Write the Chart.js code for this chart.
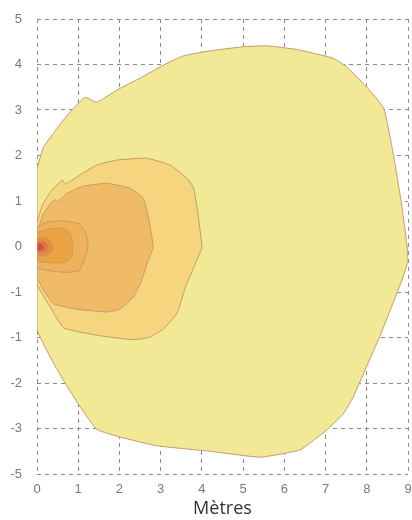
<!DOCTYPE html>
<html>
<head>
<meta charset="utf-8">
<script src="https://cdn.jsdelivr.net/npm/chart.js@4/dist/chart.umd.min.js"></script>
<style>
  html, body { margin: 0; padding: 0; background: #fff; }
  #wrap { width: 412px; height: 520px; }
</style>
</head>
<body>
<div id="wrap"><canvas id="contourChart"></canvas></div>
<script>
// tick labels as printed on the reference (top to bottom)
var yTickLabels = ["5", "4", "3", "2", "1", "0", "-1", "-1", "-2", "-3", "-5"];
var xTickLabels = ["0", "1", "2", "3", "4", "5", "6", "7", "8", "9"];
var xTitle = "Mètres";

// contour levels, outermost first: [metres, metres]
var level1 = [[0,1.72],[0.16,2.19],[0.40,2.49],[0.64,2.78],[0.89,3.04],[1.17,3.28],[1.45,3.17],
  [1.94,3.44],[2.50,3.70],[3.07,3.99],[3.55,4.19],[4.20,4.30],[5.00,4.39],[5.57,4.41],[6.30,4.33],
  [7.18,4.14],[7.51,3.95],[7.99,3.51],[8.41,3.04],[8.64,2.05],[8.84,0.95],[8.96,0.14],[9.0,-0.30],
  [8.88,-0.67],[8.60,-1.33],[8.31,-1.99],[7.99,-2.65],[7.67,-3.31],[7.43,-3.68],[7.02,-4.04],
  [6.38,-4.47],[5.41,-4.63],[4.20,-4.50],[2.91,-4.38],[2.02,-4.19],[1.45,-4.02],[1.05,-3.53],
  [0.64,-2.94],[0.32,-2.43],[0,-1.81]];
var level2 = [[0,0.53],[0.13,0.91],[0.32,1.19],[0.61,1.46],[0.69,1.37],[0.97,1.53],[1.45,1.79],
  [1.94,1.90],[2.66,1.94],[3.23,1.79],[3.63,1.50],[3.79,1.31],[3.88,0.87],[4.00,-0.01],[3.88,-0.30],
  [3.63,-0.82],[3.39,-1.48],[3.07,-1.81],[2.74,-1.99],[2.34,-2.05],[1.45,-1.95],[0.65,-1.79],
  [0.32,-1.33],[0,-0.82]];
var level3 = [[0,0.31],[0.16,0.73],[0.36,0.98],[0.44,1.03],[0.49,0.98],[0.73,1.17],[1.13,1.33],
  [1.70,1.39],[2.26,1.28],[2.58,1.06],[2.70,0.65],[2.82,-0.01],[2.70,-0.30],[2.54,-0.74],
  [2.34,-1.11],[2.02,-1.37],[1.70,-1.44],[0.89,-1.37],[0.40,-1.26],[0.16,-0.96],[0,-0.67]];
var level4 = [[0,0.42],[0.21,0.53],[0.61,0.57],[1.02,0.50],[1.18,0.31],[1.24,0.02],[1.18,-0.20],
  [1.02,-0.53],[0.69,-0.57],[0.29,-0.53],[0,-0.46]];
var level5 = [[0,0.31],[0.29,0.39],[0.61,0.40],[0.81,0.28],[0.87,0.02],[0.84,-0.24],[0.69,-0.35],
  [0.37,-0.36],[0,-0.31]];
var level6 = [[0,0.17],[0.17,0.20],[0.33,0.13],[0.39,-0.02],[0.33,-0.16],[0.17,-0.21],[0,-0.19]];
var level7 = [[0,0.11],[0.13,0.13],[0.25,0.06],[0.27,-0.02],[0.25,-0.09],[0.13,-0.13],[0,-0.11]];
var level8 = [[0,0.08],[0.11,0.08],[0.18,-0.02],[0.11,-0.10],[0,-0.10]];

var levels = [level1, level2, level3, level4, level5, level6, level7, level8];
var fills = ["#f1e996", "#f5d67f", "#f0bb66", "#efb15a", "#eca341", "#e98b3a", "#e46c34", "#e04a2e"];

function toPoints(level) {
    var pts = level.map(function (p) { return {x: p[0], y: p[1]}; });
    pts.push({x: level[0][0], y: level[0][1]}); // close the loop
    return pts;
}

var datasets = levels.map(function (level, i) {
    return {
        data: toPoints(level),
        showLine: true,
        fill: 'shape',
        backgroundColor: fills[i],
        borderColor: "#c49a6c",
        borderWidth: 1,
        pointRadius: 0,
        tension: 0.12,
        order: levels.length - i
    };
});

var tickFont = {family: "'Liberation Sans', Arial, sans-serif", size: 13};

var ctx = document.getElementById("contourChart").getContext("2d");
var contourChart = new Chart(ctx, {
    type: "scatter",
    data: { datasets: datasets },
    options: {
        responsive: true,
        maintainAspectRatio: false,
        animation: false,
        layout: { padding: { top: 19, right: 4, left: 0, bottom: 0 } },
        plugins: {
            legend: { display: false },
            tooltip: { enabled: false }
        },
        scales: {
            x: {
                type: "linear",
                min: 0,
                max: 9,
                border: { display: false, dash: [4, 4] },
                grid: { color: "#8a8a8a", lineWidth: 1, drawTicks: false },
                ticks: {
                    stepSize: 1,
                    padding: 8,
                    color: "#7a7a7a",
                    font: tickFont,
                    callback: function (v) { return xTickLabels[v]; }
                },
                title: {
                    display: true,
                    text: xTitle,
                    color: "#333",
                    font: {family: "'Open Sans', sans-serif", size: 18},
                    padding: { top: 7, bottom: 0 }
                },
                afterFit: function (scale) {
                    scale.height = 46;
                    scale.paddingLeft = 0;
                    scale.paddingRight = 0;
                }
            },
            y: {
                type: "linear",
                min: -5,
                max: 5,
                border: { display: false, dash: [4, 4] },
                grid: { color: "#8a8a8a", lineWidth: 1, drawTicks: false },
                ticks: {
                    stepSize: 1,
                    padding: 15,
                    color: "#7a7a7a",
                    font: tickFont,
                    callback: function (v) { return yTickLabels[5 - v]; }
                },
                afterFit: function (scale) {
                    scale.width = 37;
                    scale.paddingTop = 0;
                    scale.paddingBottom = 0;
                }
            }
        }
    }
});
</script>
</body>
</html>
